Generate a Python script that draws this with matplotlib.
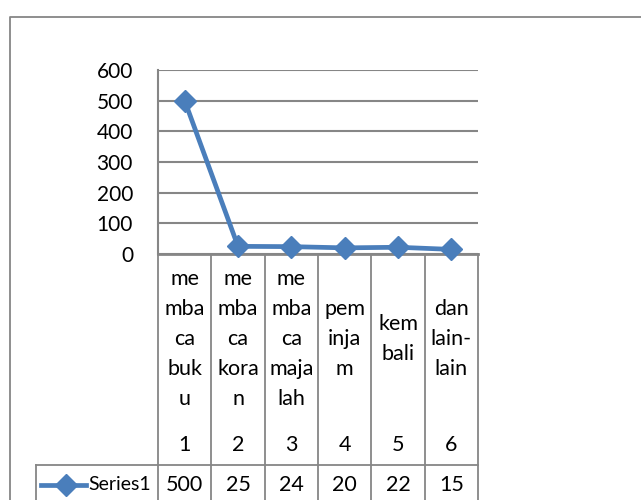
import matplotlib
matplotlib.use("Agg")
from matplotlib import pyplot as plt
from matplotlib.lines import Line2D
from matplotlib.transforms import blended_transform_factory

# data
kategori = ["me\nmba\nca\nbuk\nu", "me\nmba\nca\nkora\nn", "me\nmba\nca\nmaja\nlah",
            "pem\ninja\nm", "kem\nbali", "dan\nlain-\nlain"]
nomor = [1, 2, 3, 4, 5, 6]
series1 = [500, 25, 24, 20, 22, 15]
nama_series = "Series1"
yticks = [0, 100, 200, 300, 400, 500, 600]

W, H = 641, 500
biru = "#4a7ebb"
abu = "#868686"
plt.rcParams['font.family'] = ['Lato', 'DejaVu Sans']
fs = 15.5

fig = plt.figure(figsize=(W/100, H/100), dpi=100)
fy = lambda y: 1 - y/H
fx = lambda x: x/W

# outer border
fig.add_artist(Line2D([fx(10), fx(10), fx(W+5)], [fy(H+5), fy(17), fy(17)],
                      color=abu, lw=1.3, transform=fig.transFigure))

ax = fig.add_axes([fx(158), fy(254), fx(478)-fx(158), fy(70)-fy(254)])
ax.set_xlim(0.5, 6.5); ax.set_ylim(0, 600)
ax.set_yticks(yticks)
ax.set_yticklabels([str(v) for v in yticks], fontsize=15)
ax.set_xticks([])
ax.tick_params(axis='y', length=0, pad=18)
ax.yaxis.grid(True, color=abu, lw=1.5)
ax.set_axisbelow(True)
for s in ['top', 'right']:
  ax.spines[s].set_visible(False)
ax.spines['left'].set_color(abu); ax.spines['left'].set_linewidth(1.5)
ax.spines['bottom'].set_color(abu); ax.spines['bottom'].set_linewidth(2)

ax.plot(nomor, series1, '-D', color=biru, lw=3.4, markersize=11, clip_on=False, zorder=5)

# data table under the axis
tr = blended_transform_factory(ax.transData, fig.transFigure)
for i in range(len(nomor)+1):
  ax.add_line(Line2D([0.5+i, 0.5+i], [fy(254), fy(H+5)], color=abu, lw=1.3,
                     transform=tr, clip_on=False))
fig.add_artist(Line2D([fx(36), fx(478)], [fy(465), fy(465)], color=abu, lw=1.3,
                      transform=fig.transFigure))
fig.add_artist(Line2D([fx(36), fx(36)], [fy(465), fy(H+5)], color=abu, lw=1.3,
                      transform=fig.transFigure))

for i, k in enumerate(kategori):
  fig.text(nomor[i], fy(339), k, transform=tr, ha='center', va='center',
           fontsize=fs, linespacing=1.62, multialignment='center')
  fig.text(nomor[i], fy(445), str(nomor[i]), transform=tr, ha='center', va='center', fontsize=fs)
  fig.text(nomor[i], fy(485), str(series1[i]), transform=tr, ha='center', va='center', fontsize=fs)

# legend key
fig.add_artist(Line2D([fx(41), fx(86)], [fy(485), fy(485)], color=biru, lw=3.4,
                      transform=fig.transFigure))
fig.add_artist(Line2D([fx(66)], [fy(485)], marker='D', markersize=11, color=biru,
                      transform=fig.transFigure))
fig.text(fx(88), fy(485), nama_series, ha='left', va='center', fontsize=14)

fig.savefig("out.png", dpi=100)
